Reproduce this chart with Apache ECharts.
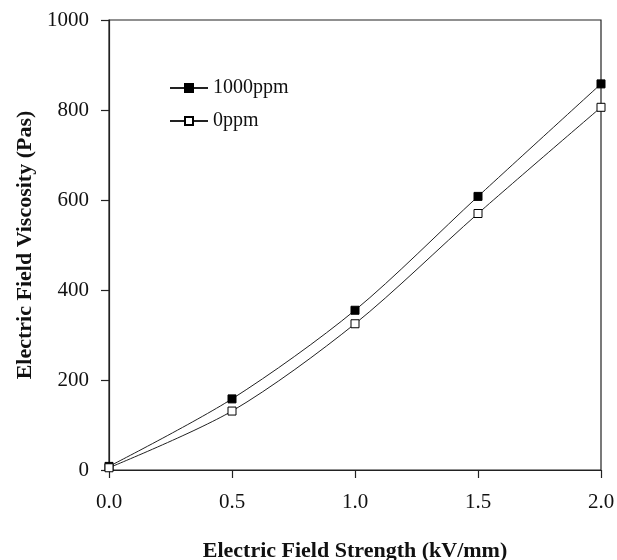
<!DOCTYPE html>
<html><head><meta charset="utf-8">
<script src="https://cdn.jsdelivr.net/npm/echarts@6/dist/echarts.min.js"></script>
<style>html,body{margin:0;padding:0;background:#fff}#c{width:617px;height:560px}</style>
</head><body><div id="c"></div>
<script>
var xValues = [0, 0.5, 1.0, 1.5, 2.0];
var s1000 = [8, 158, 355, 608, 858];
var s0 = [5, 131, 325, 570, 806];
var seriesNames = ['1000ppm', '0ppm'];
var xTitle = 'Electric Field Strength (kV/mm)';
var yTitle = 'Electric Field Viscosity (Pas)';

var font = 'Liberation Serif';
var chart = echarts.init(document.getElementById('c'));
function pts(v){ return xValues.map(function(x,i){ return [x, v[i]]; }); }
chart.setOption({
  animation: false,
  backgroundColor: '#fff',
  grid: { left: 109, right: 16, top: 20, bottom: 90, containLabel: false, outerBoundsMode: 'none',
          show: true, borderColor: '#222', borderWidth: 1.2 },
  legend: {
    orient: 'vertical', left: 164, top: 73, itemGap: 13,
    itemWidth: 38, itemHeight: 10, itemStyle: {}, 
    textStyle: { fontFamily: font, fontSize: 20, color: '#111' },
    data: seriesNames
  },
  xAxis: {
    type: 'value', min: 0, max: 2, interval: 0.5,
    name: xTitle, nameLocation: 'middle', nameGap: 70,
    nameTextStyle: { fontFamily: font, fontSize: 22, fontWeight: 'bold', color: '#111' },
    axisLine: { lineStyle: { color: '#222', width: 1.2 } },
    axisTick: { show: true, inside: false, length: 8, lineStyle: { color: '#222', width: 1.2 } },
    axisLabel: { fontFamily: font, fontSize: 21, color: '#111', margin: 22, formatter: function(v){ return v.toFixed(1); } },
    splitLine: { show: false }
  },
  yAxis: {
    type: 'value', min: 0, max: 1000, interval: 200,
    name: yTitle, nameLocation: 'middle', nameGap: 73, nameRotate: 90,
    nameTextStyle: { fontFamily: font, fontSize: 22, fontWeight: 'bold', color: '#111' },
    axisLine: { show: true, lineStyle: { color: '#222', width: 1.2 } },
    axisTick: { show: true, inside: false, length: 8, lineStyle: { color: '#222', width: 1.2 } },
    axisLabel: { fontFamily: font, fontSize: 21, color: '#111', margin: 20, formatter: function(v){ return String(v); } },
    splitLine: { show: false }
  },
  series: [
    { name: seriesNames[0], type: 'line', data: pts(s1000), smooth: 0.3,
      symbol: 'rect', symbolSize: 8,
      lineStyle: { color: '#222', width: 1 },
      itemStyle: { color: '#000', borderColor: '#000', borderWidth: 1 } },
    { name: seriesNames[1], type: 'line', data: pts(s0), smooth: 0.3,
      symbol: 'rect', symbolSize: 8,
      lineStyle: { color: '#222', width: 1 },
      itemStyle: { color: '#fff', borderColor: '#000', borderWidth: 1 } }
  ]
});
</script></body></html>
